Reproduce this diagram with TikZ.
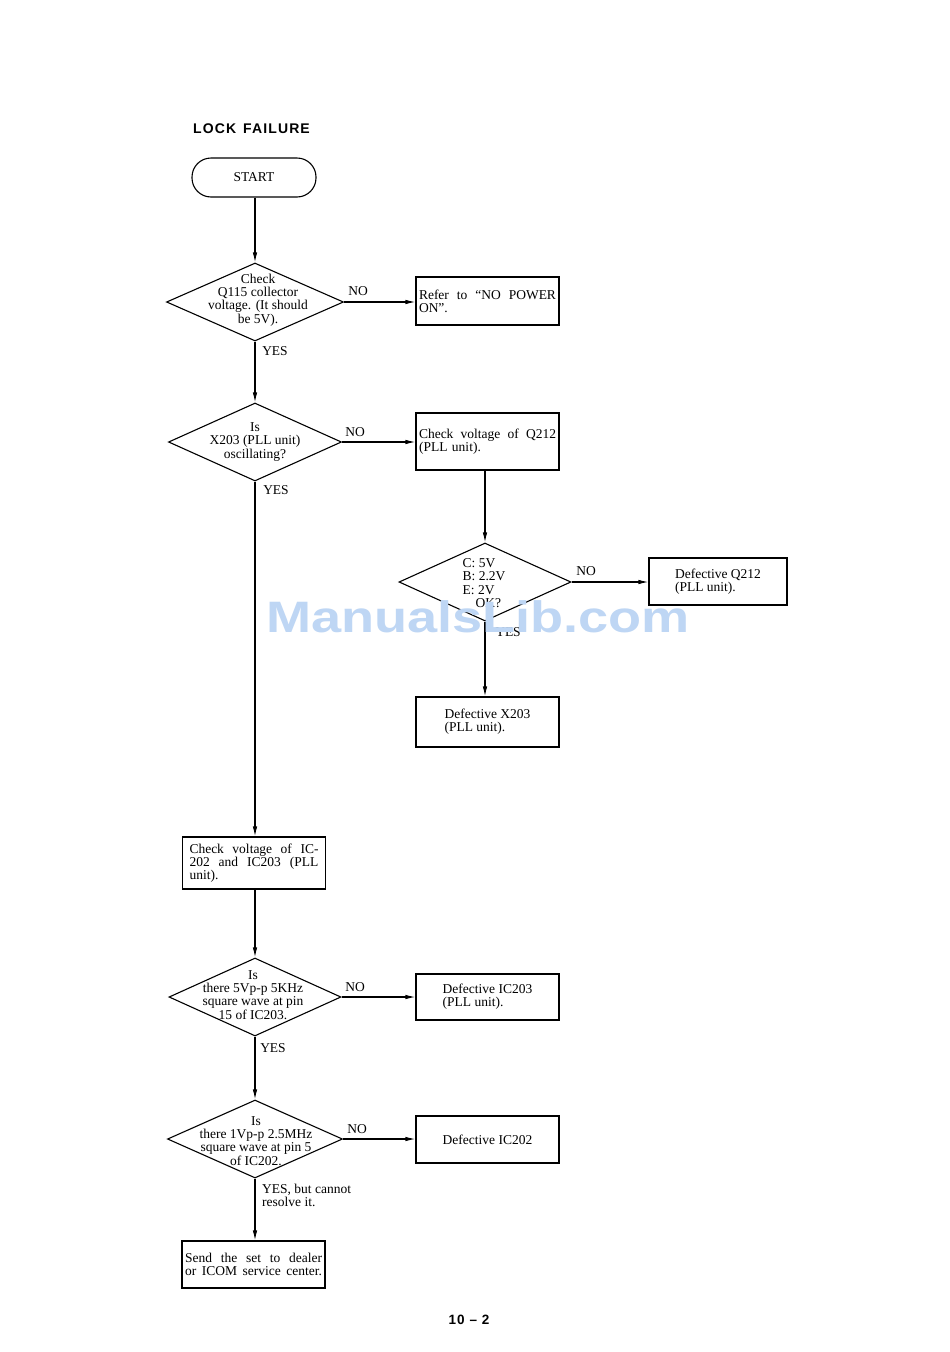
\documentclass[tikz,border=0pt]{standalone}
\usepackage{fontspec}
\setmainfont{Liberation Serif}
\newfontfamily\headfont{Liberation Sans}[LetterSpace=8]
\newfontfamily\wmfont{Liberation Sans}
\usetikzlibrary{shapes.geometric,arrows.meta}
\definecolor{wmblue}{RGB}{190,214,244}
\tikzset{
  txt/.style={font=\fontsize{13.5}{13.3}\selectfont, inner sep=0pt},
  boxnode/.style={draw, line width=1.1pt, rectangle, inner sep=3pt, font=\fontsize{13.5}{13.3}\selectfont},
  dia/.style={draw, line width=1.1pt, shape=diamond, inner sep=0pt},
  diatext/.style={txt, align=center},
  conn/.style={line width=1.1pt, -{Latex[length=10pt,width=4.5pt]}},
}
\begin{document}
\begin{tikzpicture}[x=1pt,y=-1pt]
\useasboundingbox (0,0) rectangle (950,1352);
\fill[white] (0,0) rectangle (950,1352);

\node[font=\headfont\bfseries\fontsize{14}{15}\selectfont, anchor=west, inner sep=0pt] (title) at (193,129) {LOCK\hspace{7pt}FAILURE};

\node[draw, line width=1.1pt, rounded corners=19pt, minimum width=124pt, minimum height=39pt, txt] (start) at (254,177.5) {START};

% diamond 1
\node[dia, minimum width=177pt, minimum height=78pt] (d1) at (255,302) {};
\node[diatext] (d1t) at (258,300) {Check\\Q115 collector\\voltage. (It should\\be 5V).};
\node[boxnode, minimum width=143pt, minimum height=48pt, text width=137pt, align=left] (refer) at (487.5,301) {Refer\hfill to\hfill “NO\hfill POWER\\ON”.};

% diamond 2
\node[dia, minimum width=173pt, minimum height=78pt] (d2) at (255,442) {};
\node[diatext] (d2t) at (255,442) {Is\\X203 (PLL unit)\\oscillating?};
\node[boxnode, minimum width=143pt, minimum height=57pt, text width=137pt, align=left] (q212) at (487.5,441.5) {Check\hfill voltage\hfill of\hfill Q212\\(PLL unit).};

% diamond 3
\node[dia, minimum width=172pt, minimum height=78pt] (d3) at (485,582) {};
\node[txt, align=left] (d3t) at (484,583) {C: 5V\\B: 2.2V\\E: 2V\\\hspace*{13pt}OK?};
\node[boxnode, minimum width=138pt, minimum height=47pt, align=left] (defq) at (718,581.5) {Defective Q212\\(PLL unit).};
\node[boxnode, minimum width=143pt, minimum height=50pt, align=left] (defx) at (487.5,722) {Defective X203\\(PLL unit).};

% IC check box
\node[boxnode, minimum width=143pt, minimum height=52pt, text width=129pt, align=left] (icbox) at (254,863) {Check\hfill voltage\hfill of\hfill IC-\\202\hfill and\hfill IC203\hfill (PLL\\unit).};

% diamond 4
\node[dia, minimum width=172pt, minimum height=78pt] (d4) at (255,997) {};
\node[diatext] (d4t) at (253,995) {Is\\there 5Vp-p 5KHz\\square wave at pin\\15 of IC203.};
\node[boxnode, minimum width=143pt, minimum height=46pt, align=left] (defic3) at (487.5,997) {Defective IC203\\(PLL unit).};

% diamond 5
\node[dia, minimum width=175pt, minimum height=78pt] (d5) at (255,1139) {};
\node[diatext] (d5t) at (256,1141) {Is\\there 1Vp-p 2.5MHz\\square wave at pin 5\\of IC202.};
\node[boxnode, minimum width=143pt, minimum height=47pt, align=left] (defic2) at (487.5,1139.5) {Defective IC202};

\node[boxnode, minimum width=143pt, minimum height=47pt, text width=137pt, align=left] (send) at (253.5,1264.5) {Send\hfill the\hfill set\hfill to\hfill dealer\\or\hfill ICOM\hfill service\hfill center.};

% labels
\node[txt] (no1) at (358,291) {NO};
\node[txt] (yes1) at (275,351) {YES};
\node[txt] (no2) at (355,432) {NO};
\node[txt] (yes2) at (276,490) {YES};
\node[txt] (no3) at (586,571) {NO};
\node[txt] (yes3) at (508,632) {YES};
\node[txt] (no4) at (355,987) {NO};
\node[txt] (yes4) at (273,1048) {YES};
\node[txt] (no5) at (357,1129) {NO};
\node[txt, anchor=north west, align=left] (yes5) at (262,1184) {YES, but cannot\\resolve it.};

% connectors
\draw[conn] (start.south -| d1.north) -- (d1.north);
\draw[conn] (d1.east) -- (d1.east -| refer.west);
\draw[conn] (d1.south) -- (d2.north);
\draw[conn] (d2.east) -- (d2.east -| q212.west);
\draw[conn] (q212.south -| d3.north) -- (d3.north);
\draw[conn] (d3.east) -- (d3.east -| defq.west);
\draw[conn] (d3.south) -- (d3.south |- defx.north);
\draw[conn] (d2.south) -- (d2.south |- icbox.north);
\draw[conn] (icbox.south -| d4.north) -- (d4.north);
\draw[conn] (d4.east) -- (d4.east -| defic3.west);
\draw[conn] (d4.south) -- (d5.north);
\draw[conn] (d5.east) -- (d5.east -| defic2.west);
\draw[conn] (d5.south) -- (d5.south |- send.north);

% page number
\node[font=\headfont\bfseries\fontsize{13.5}{15}\selectfont, inner sep=0pt] (page) at (469,1320) {10 – 2};

% watermark
\node[font=\wmfont\bfseries\fontsize{44}{50}\selectfont, text=wmblue, inner sep=0pt, xscale=1.23, anchor=base] (wm) at (478,632) {ManualsLib.com};
\end{tikzpicture}
\end{document}
